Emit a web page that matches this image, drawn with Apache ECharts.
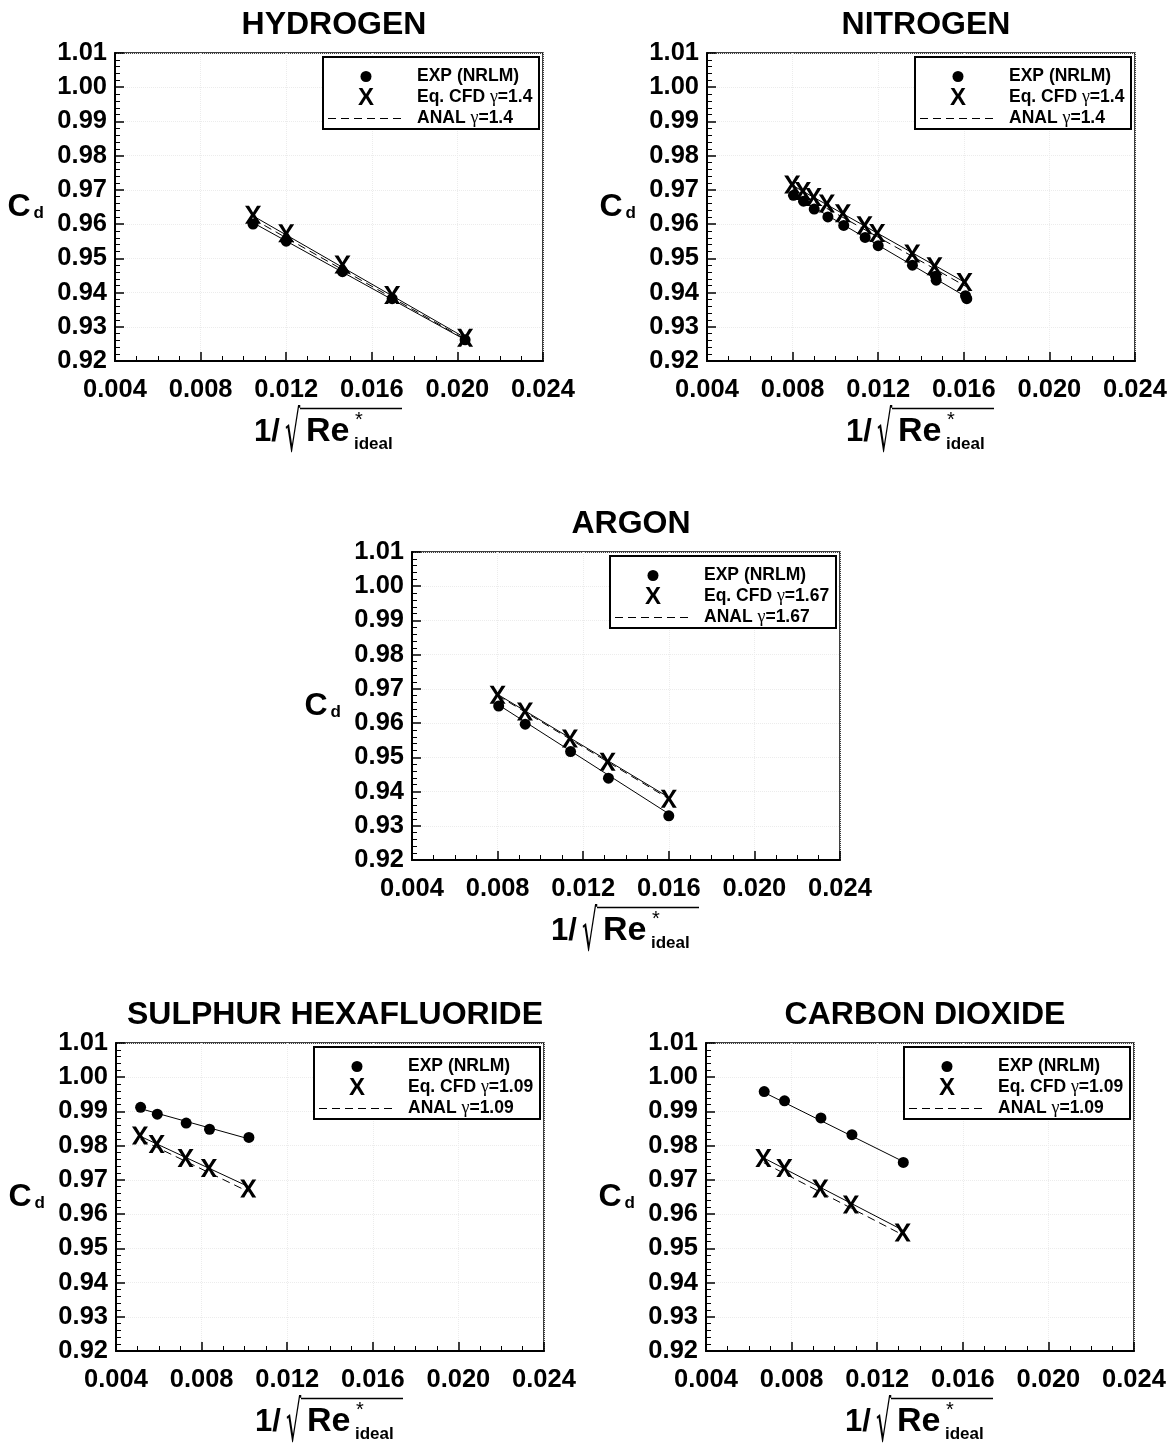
<!DOCTYPE html>
<html>
<head>
<meta charset="utf-8">
<script src="https://cdn.jsdelivr.net/npm/echarts@6/dist/echarts.min.js"></script>
<style>
html,body{margin:0;padding:0;background:#fff;}
#chart{width:1175px;height:1443px;}
</style>
</head>
<body>
<div id="chart"></div>
<script>
// ---------- DATA ----------
const xTicks = [0.004, 0.008, 0.012, 0.016, 0.020, 0.024];
const yTicks = [0.92, 0.93, 0.94, 0.95, 0.96, 0.97, 0.98, 0.99, 1.00, 1.01];

// Hydrogen
const h2ExpX = [0.01045, 0.01200, 0.01463, 0.01695, 0.02036];
const h2ExpCd = [0.9600, 0.9550, 0.9461, 0.9382, 0.9262];
const h2CfdX = [0.01045, 0.01200, 0.01463, 0.01695, 0.02036];
const h2CfdCd = [0.9627, 0.9573, 0.9482, 0.9393, 0.9268];
const h2FitX = [0.01045, 0.02036];
const h2ExpFit = [0.9604, 0.9262];
const h2CfdFit = [0.9624, 0.9268];
const h2Anal = [0.9615, 0.9264];

// Nitrogen
const n2ExpX = [0.00804, 0.00851, 0.00901, 0.00965, 0.01039, 0.01139, 0.01200, 0.01360, 0.01468, 0.01471, 0.01608, 0.01614];
const n2ExpCd = [0.9684, 0.9667, 0.9644, 0.9621, 0.9596, 0.9561, 0.9537, 0.9480, 0.9448, 0.9436, 0.9391, 0.9382];
const n2CfdX = [0.00798, 0.00848, 0.00898, 0.00960, 0.01035, 0.01136, 0.01195, 0.01359, 0.01463, 0.01603];
const n2CfdCd = [0.9716, 0.9697, 0.9679, 0.9660, 0.9632, 0.9597, 0.9574, 0.9514, 0.9477, 0.9431];
const n2FitX = [0.0080, 0.0161];
const n2ExpFit = [0.9685, 0.9388];
const n2CfdFit = [0.9713, 0.9428];
const n2Anal = [0.9702, 0.9418];

// Argon
const arExpX = [0.00805, 0.00929, 0.01141, 0.01318, 0.01600];
const arExpCd = [0.9650, 0.9597, 0.9517, 0.9439, 0.9329];
const arCfdX = [0.00800, 0.00928, 0.01138, 0.01314, 0.01600];
const arCfdCd = [0.9683, 0.9634, 0.9555, 0.9487, 0.9379];
const arFitX = [0.0080, 0.0160];
const arExpFit = [0.9655, 0.9335];
const arCfdFit = [0.9684, 0.9383];
const arAnal = [0.9681, 0.9379];

// Sulphur hexafluoride
const sf6ExpX = [0.00515, 0.00593, 0.00728, 0.00837, 0.01021];
const sf6ExpCd = [0.9912, 0.9892, 0.9866, 0.9848, 0.9824];
const sf6CfdX = [0.00512, 0.00590, 0.00725, 0.00834, 0.01018];
const sf6CfdCd = [0.9830, 0.9805, 0.9764, 0.9735, 0.9675];
const sf6FitX = [0.00515, 0.0102];
const sf6ExpFit = [0.9908, 0.9820];
const sf6CfdFit = [0.9827, 0.9680];
const sf6Anal = [0.9818, 0.9665];

// Carbon dioxide
const co2ExpX = [0.00672, 0.00767, 0.00937, 0.01082, 0.01322];
const co2ExpCd = [0.9958, 0.9931, 0.9881, 0.9832, 0.9751];
const co2CfdX = [0.00668, 0.00766, 0.00934, 0.01077, 0.01319];
const co2CfdCd = [0.9764, 0.9735, 0.9675, 0.9628, 0.9546];
const co2FitX = [0.0067, 0.0132];
const co2ExpFit = [0.9956, 0.9754];
const co2CfdFit = [0.9764, 0.9553];
const co2Anal = [0.9750, 0.9539];

const titles = ['HYDROGEN', 'NITROGEN', 'ARGON', 'SULPHUR HEXAFLUORIDE', 'CARBON DIOXIDE'];
const gammas = ['1.4', '1.4', '1.67', '1.09', '1.09'];
const legendNames = ['EXP (NRLM)', 'Eq. CFD', 'ANAL'];

// ---------- LAYOUT ----------
const FONT = '"Liberation Sans", Arial, Helvetica, sans-serif';
const PW = 428, PH = 308;
const layout = [
  {left: 115, top: 53},
  {left: 707, top: 53},
  {left: 412, top: 552},
  {left: 116, top: 1043},
  {left: 706, top: 1043}
];
const data = [
  [h2ExpX, h2ExpCd, h2CfdX, h2CfdCd, h2FitX, h2ExpFit, h2CfdFit, h2Anal],
  [n2ExpX, n2ExpCd, n2CfdX, n2CfdCd, n2FitX, n2ExpFit, n2CfdFit, n2Anal],
  [arExpX, arExpCd, arCfdX, arCfdCd, arFitX, arExpFit, arCfdFit, arAnal],
  [sf6ExpX, sf6ExpCd, sf6CfdX, sf6CfdCd, sf6FitX, sf6ExpFit, sf6CfdFit, sf6Anal],
  [co2ExpX, co2ExpCd, co2CfdX, co2CfdCd, co2FitX, co2ExpFit, co2CfdFit, co2Anal]
];
const zip = (a, b) => a.map((v, i) => [v, b[i]]);
const XSYM = 'path://M0,0 L25,0 L50,37 L75,0 L100,0 L63,50 L100,100 L75,100 L50,63 L25,100 L0,100 L37,50 Z';

const grids = [], xAxes = [], yAxes = [], series = [], titleArr = [], gfx = [];

layout.forEach((g, i) => {
  grids.push({left: g.left, top: g.top, width: PW, height: PH, show: true,
    borderColor: '#000', borderWidth: 1.5, backgroundColor: '#fff', containLabel: false});
  xAxes.push({
    type: 'value', gridIndex: i, min: xTicks[0], max: xTicks[xTicks.length - 1],
    interval: xTicks[1] - xTicks[0],
    axisLine: {show: true, lineStyle: {color: '#000', width: 2}},
    axisTick: {show: true, inside: true, length: 9, lineStyle: {color: '#000', width: 1.5}},
    minorTick: {show: true, splitNumber: 4, length: 5, lineStyle: {color: '#000', width: 1}},
    splitLine: {show: true, lineStyle: {color: '#ececec', type: 'dotted', width: 1}},
    axisLabel: {color: '#000', fontFamily: FONT, fontWeight: 'bold', fontSize: 25.5, margin: 16,
      formatter: v => v.toFixed(3)}
  });
  yAxes.push({
    type: 'value', gridIndex: i, min: yTicks[0], max: yTicks[yTicks.length - 1],
    interval: 0.01,
    name: '{c|C}{d|d}', nameLocation: 'middle', nameRotate: 0, nameGap: 71,
    nameTextStyle: {color: '#000', rich: {
      c: {fontFamily: FONT, fontWeight: 'bold', fontSize: 32, color: '#000'},
      d: {fontFamily: FONT, fontWeight: 'bold', fontSize: 17, color: '#000', padding: [12, 0, 0, 3]}
    }},
    axisLine: {show: true, lineStyle: {color: '#000', width: 2}},
    axisTick: {show: true, inside: true, length: 9, lineStyle: {color: '#000', width: 1.5}},
    minorTick: {show: true, splitNumber: 5, length: 5, lineStyle: {color: '#000', width: 1}},
    splitLine: {show: true, lineStyle: {color: '#ececec', type: 'dotted', width: 1}},
    axisLabel: {color: '#000', fontFamily: FONT, fontWeight: 'bold', fontSize: 25.5, margin: 8,
      formatter: v => v.toFixed(2)}
  });
  const d = data[i];
  const gm = gammas[i];
  series.push({name: legendNames[0], type: 'scatter', xAxisIndex: i, yAxisIndex: i,
    data: zip(d[0], d[1]), symbol: 'circle', symbolSize: 11, itemStyle: {color: '#000', opacity: 1}, z: 5});
  series.push({name: legendNames[1] + ' γ=' + gm, type: 'scatter', xAxisIndex: i, yAxisIndex: i,
    data: zip(d[2], d[3]), symbol: XSYM, symbolSize: [16, 18], itemStyle: {color: '#000', opacity: 1}, z: 5});
  series.push({name: 'EXP fit', type: 'line', xAxisIndex: i, yAxisIndex: i, data: zip(d[4], d[5]),
    symbol: 'none', lineStyle: {color: '#000', width: 1}, z: 3});
  series.push({name: 'CFD fit', type: 'line', xAxisIndex: i, yAxisIndex: i, data: zip(d[4], d[6]),
    symbol: 'none', lineStyle: {color: '#000', width: 1}, z: 3});
  series.push({name: legendNames[2] + ' γ=' + gm, type: 'line', xAxisIndex: i, yAxisIndex: i, data: zip(d[4], d[7]),
    symbol: 'none', lineStyle: {color: '#000', width: 1, type: [8, 5]}, z: 3});

  const cx = g.left + PW / 2;
  titleArr.push({text: titles[i], left: cx, top: g.top - 49, textAlign: 'center',
    textStyle: {fontFamily: FONT, fontWeight: 'bold', fontSize: 32, color: '#000'}});

  // legend box
  const bw = gm.length > 3 ? 226 : 216;
  const bx = g.left + PW - 4 - bw, by = g.top + 4;
  gfx.push({type: 'rect', shape: {x: bx, y: by, width: bw, height: 72}, style: {fill: '#fff', stroke: '#000', lineWidth: 2}, z: 10});
  gfx.push({type: 'circle', shape: {cx: bx + 43, cy: by + 19.5, r: 5.5}, style: {fill: '#000'}, z: 11});
  gfx.push({type: 'text', x: bx + 43, y: by + 41, z: 11, style: {text: 'X', fontFamily: FONT, fontWeight: 'bold', fontSize: 24, fill: '#000',
    align: 'center', verticalAlign: 'middle', textAlign: 'center', textVerticalAlign: 'middle'}});
  gfx.push({type: 'line', shape: {x1: bx + 5, y1: by + 61.5, x2: bx + 82, y2: by + 61.5}, z: 11,
    style: {stroke: '#000', lineWidth: 1, lineDash: [8, 5]}});
  const rich = {b: {fontFamily: FONT, fontWeight: 'bold', fontSize: 17.5, fill: '#000'},
                g: {fontFamily: '"Liberation Serif", "DejaVu Serif", serif', fontSize: 18, fill: '#000'}};
  const rows = ['{b|' + legendNames[0] + '}', '{b|' + legendNames[1] + ' }{g|γ}{b|=' + gm + '}', '{b|' + legendNames[2] + ' }{g|γ}{b|=' + gm + '}'];
  rows.forEach((r, k) => {
    gfx.push({type: 'text', x: bx + 94, y: by + 19.5 + k * 21, z: 11,
      style: {text: r, rich: rich, fill: '#000', align: 'left', verticalAlign: 'middle', textAlign: 'left', textVerticalAlign: 'middle'}});
  });

  // x-axis name: 1/ sqrt(Re*_ideal)
  const b = g.top + PH;
  gfx.push({type: 'text', x: cx - 75, y: b + 71, z: 11, style: {text: '1/', fontFamily: FONT, fontWeight: 'bold', fontSize: 31, fill: '#000',
    align: 'left', verticalAlign: 'middle', textAlign: 'left', textVerticalAlign: 'middle'}});
  gfx.push({type: 'text', x: cx - 44, y: b + 75, scaleX: 0.42, z: 11, style: {text: '√', fontFamily: '"DejaVu Sans", sans-serif', fontSize: 57, fill: '#000',
    align: 'left', verticalAlign: 'middle', textAlign: 'left', textVerticalAlign: 'middle'}});
  gfx.push({type: 'line', shape: {x1: cx - 29, y1: b + 47.5, x2: cx + 73, y2: b + 47.5}, z: 11, style: {stroke: '#000', lineWidth: 1.5}});
  gfx.push({type: 'text', x: cx - 23, y: b + 71, z: 11, style: {text: 'Re', fontFamily: FONT, fontWeight: 'bold', fontSize: 34, fill: '#000',
    align: 'left', verticalAlign: 'middle', textAlign: 'left', textVerticalAlign: 'middle'}});
  gfx.push({type: 'text', x: cx + 26, y: b + 59, z: 11, style: {text: '*', fontFamily: FONT, fontSize: 20, fill: '#000',
    align: 'left', verticalAlign: 'middle', textAlign: 'left', textVerticalAlign: 'middle'}});
  gfx.push({type: 'text', x: cx + 25, y: b + 83, z: 11, style: {text: 'ideal', fontFamily: FONT, fontWeight: 'bold', fontSize: 17, fill: '#000',
    align: 'left', verticalAlign: 'middle', textAlign: 'left', textVerticalAlign: 'middle'}});
});

const chart = echarts.init(document.getElementById('chart'), null, {renderer: 'canvas'});
chart.setOption({
  animation: false,
  backgroundColor: '#fff',
  title: titleArr,
  grid: grids,
  xAxis: xAxes,
  yAxis: yAxes,
  series: series,
  graphic: {elements: gfx}
});
</script>
</body>
</html>
